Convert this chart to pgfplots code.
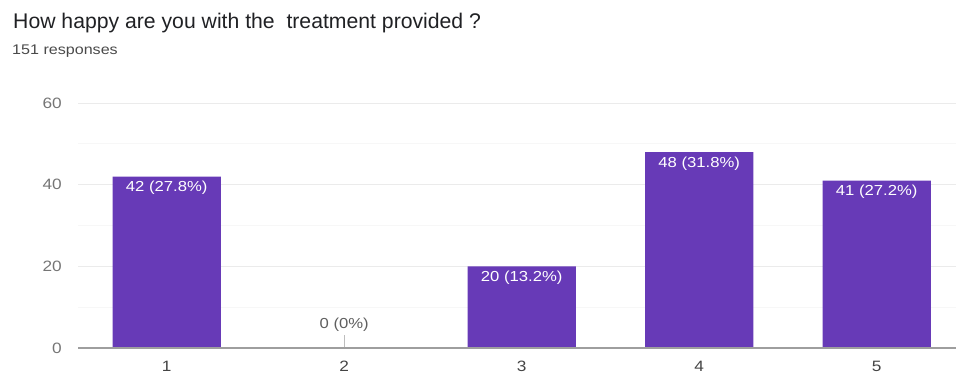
\documentclass[border=0pt]{standalone}
\usepackage{pgfplots}
\pgfplotsset{compat=1.18}
\usepackage{fontspec}
\setmainfont{Liberation Sans}
\newfontfamily\chartfont[FakeStretch=1.15]{Liberation Sans}
\definecolor{barpurple}{HTML}{673AB7}
\definecolor{titlecol}{HTML}{202124}
\definecolor{subcol}{HTML}{4A4A4A}
\definecolor{ytickcol}{HTML}{757575}
\definecolor{xtickcol}{HTML}{444444}
\definecolor{gridcol}{HTML}{EBEBEB}
\definecolor{gridcoltwo}{HTML}{F7F7F7}
\definecolor{axiscol}{HTML}{9E9E9E}
\definecolor{zerolab}{HTML}{5F5F5F}
\definecolor{tickcol}{HTML}{BDBDBD}
\begin{document}
\begin{tikzpicture}[x=1pt,y=1pt]
\useasboundingbox (0,0) rectangle (956,376);
\node[anchor=base west, inner sep=0pt, text=titlecol] at (13,348) {\fontsize{21.2}{25}\selectfont How happy are you with the\ \ treatment provided ?};
\node[anchor=base west, inner sep=0pt, text=subcol] at (12,321.5) {\chartfont\fontsize{14}{16}\selectfont 151 responses};
\begin{axis}[
  at={(78pt,28pt)}, anchor=south west,
  scale only axis, width=887.5pt, height=245pt,
  xmin=0.5, xmax=5.5, ymin=0, ymax=60,
  ytick={0,20,40,60}, minor ytick={10,30,50},
  xtick={1,2,3,4,5},
  ymajorgrids, yminorgrids,
  major grid style={gridcol, line width=1pt},
  minor grid style={gridcoltwo, line width=0.8pt},
  axis line style={draw=none},
  tick style={draw=none},
  /pgf/number format/assume math mode=true,
  yticklabel style={font=\chartfont\fontsize{15}{18}\selectfont, text=ytickcol, inner sep=0pt, anchor=east, xshift=-16pt},
  xticklabel style={font=\chartfont\fontsize{15}{18}\selectfont, text=xtickcol, inner sep=0pt, anchor=north, yshift=-13pt},
]
\addplot[ybar, bar width=0.61, fill=barpurple, draw=none,
  point meta=explicit symbolic, nodes near coords,
  every node near coord/.append style={anchor=center, yshift=-11.5pt, text=white, inner sep=0pt, font=\chartfont\fontsize{14.5}{17}\selectfont}]
  coordinates {(1,42) [{42 (27.8\%)}] (3,20) [{20 (13.2\%)}] (4,48) [{48 (31.8\%)}] (5,41) [{41 (27.2\%)}]};
\addplot[tickcol, line width=1pt, mark=none] coordinates {(2,0) (2,3.3)};
\addplot[draw=none, mark=none, point meta=explicit symbolic, nodes near coords,
  every node near coord/.append style={anchor=center, yshift=23pt, text=zerolab, inner sep=0pt, font=\chartfont\fontsize{14.5}{17}\selectfont}]
  coordinates {(2,0) [{0 (0\%)}]};
\addplot[axiscol, line width=2pt, mark=none] coordinates {(0.5,0) (5.5,0)};
\end{axis}
\end{tikzpicture}
\end{document}
